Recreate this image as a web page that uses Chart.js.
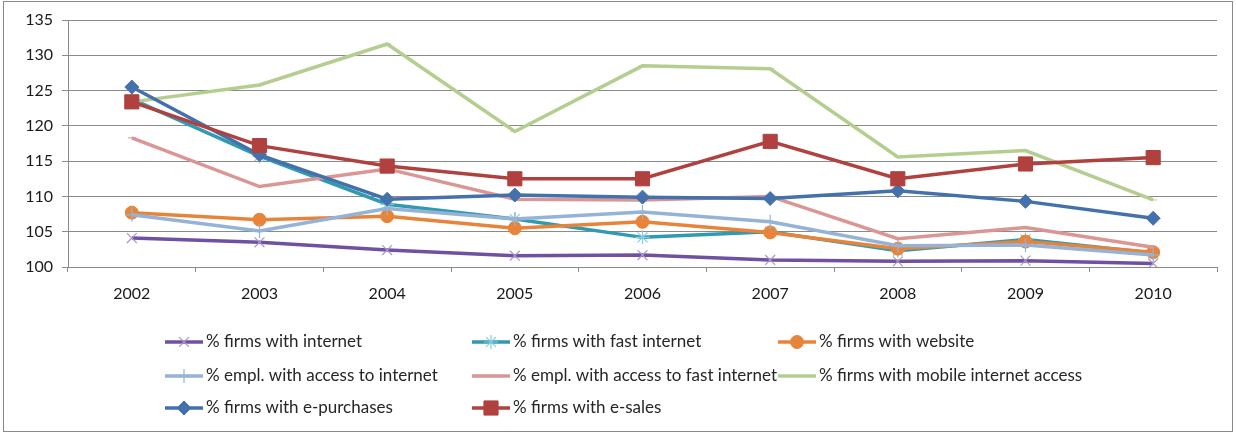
<!DOCTYPE html>
<html>
<head>
<meta charset="utf-8">
<script src="https://cdn.jsdelivr.net/npm/chart.js@4.4.1/dist/chart.umd.min.js"></script>
<style>
  html, body { margin: 0; padding: 0; background: #fff; }
  #wrap { position: relative; width: 1236px; height: 433px; }
</style>
</head>
<body>
<div id="wrap"><canvas id="trend" width="1236" height="433"></canvas></div>
<script>
const years = ['2002', '2003', '2004', '2005', '2006', '2007', '2008', '2009', '2010'];

const firmsInternet     = [104.1, 103.5, 102.4, 101.6, 101.7, 101.0, 100.8, 100.9, 100.5];
const firmsFastInternet = [123.8, 115.7, 108.9, 106.8, 104.2, 105.0, 102.3, 103.9, 102.0];
const firmsWebsite      = [107.7, 106.7, 107.2, 105.5, 106.4, 104.9, 102.6, 103.6, 102.1];
const emplInternet      = [107.4, 105.1, 108.3, 106.8, 107.8, 106.4, 103.0, 103.1, 101.7];
const emplFastInternet  = [118.3, 111.4, 113.9, 109.6, 109.5, 110.0, 104.0, 105.6, 102.8];
const firmsMobile       = [123.4, 125.8, 131.6, 119.2, 128.5, 128.1, 115.6, 116.5, 109.5];
const firmsEPurchases   = [125.5, 115.9, 109.6, 110.2, 109.9, 109.7, 110.8, 109.3, 106.9];
const firmsESales       = [123.4, 117.2, 114.3, 112.5, 112.5, 117.8, 112.5, 114.6, 115.5];

const seriesNames = [
    '% firms with internet', '% firms with fast internet', '% firms with website',
    '% empl. with access to internet', '% empl. with access to fast internet', '% firms with mobile internet access',
    '% firms with e-purchases', '% firms with e-sales'
];
const seriesValues = [firmsInternet, firmsFastInternet, firmsWebsite, emplInternet,
    emplFastInternet, firmsMobile, firmsEPurchases, firmsESales];

// line colour, marker shape, marker fill/stroke, marker radius
const looks = [
    { line: '#7050a0', style: 'crossRot', mark: '#a898cc', r: 7 },
    { line: '#2f9ab0', style: 'star',     mark: '#84cde0', r: 7 },
    { line: '#e8843a', style: 'circle',   mark: '#e8843a', r: 6.5 },
    { line: '#95b3d7', style: 'cross',    mark: '#95b3d7', r: 7 },
    { line: '#d99694', style: 'line',     mark: '#d99694', r: 4 },
    { line: '#b5ce8f', style: 'line',     mark: '#b5ce8f', r: 4 },
    { line: '#4471ab', style: 'rectRot',  mark: '#4471ab', r: 7 },
    { line: '#b0413e', style: 'rect',     mark: '#b0413e', r: 10 }
];

const yTicks = { min: 100, max: 135, step: 5 };

const thinMarks = ['crossRot', 'star', 'cross'];

const datasets = seriesValues.map((vals, i) => ({
    label: seriesNames[i],
    data: vals,
    borderColor: looks[i].line,
    borderWidth: 3.5,
    pointStyle: looks[i].style,
    pointRadius: looks[i].r,
    pointBackgroundColor: looks[i].mark,
    pointBorderColor: looks[i].mark,
    pointBorderWidth: thinMarks.includes(looks[i].style) ? 1.2 : 1,
    tension: 0,
    fill: false,
    order: -i
}));

// frame around the whole chart
const framePlugin = {
    id: 'frame',
    beforeDraw(chart) {
        const ctx = chart.ctx;
        ctx.save();
        ctx.strokeStyle = '#8a8a8a';
        ctx.lineWidth = 1;
        ctx.strokeRect(3.5, 1.5, 1229, 430);
        ctx.restore();
    }
};

// three-column legend under the plot
const legendPlugin = {
    id: 'gridLegend',
    afterDraw(chart) {
        const ctx = chart.ctx;
        const colX = [165, 472, 778];
        const rowY = [342, 376, 408];
        ctx.save();
        chart.data.datasets.forEach((ds, i) => {
            const x = colX[i % 3];
            const y = rowY[Math.floor(i / 3)];
            ctx.strokeStyle = ds.borderColor;
            ctx.lineWidth = 3.5;
            ctx.beginPath();
            ctx.moveTo(x, y);
            ctx.lineTo(x + 38, y);
            ctx.stroke();
            if (ds.pointStyle !== 'line') {
                ctx.fillStyle = ds.pointBackgroundColor;
                ctx.strokeStyle = ds.pointBorderColor;
                ctx.lineWidth = ds.pointBorderWidth;
                Chart.helpers.drawPoint(ctx, {
                    pointStyle: ds.pointStyle,
                    radius: ds.pointRadius,
                    rotation: 0,
                    borderWidth: ds.pointBorderWidth
                }, x + 19, y);
            }
            ctx.fillStyle = '#262626';
            ctx.font = '17px Lato';
            ctx.textBaseline = 'middle';
            ctx.textAlign = 'left';
            ctx.fillText(ds.label, x + 41, y);
        });
        ctx.restore();
    }
};

new Chart(document.getElementById('trend'), {
    type: 'line',
    data: { labels: years, datasets: datasets },
    options: {
        responsive: false,
        animation: false,
        layout: { padding: { left: 0, top: 20, right: 19, bottom: 0 } },
        plugins: {
            legend: { display: false },
            tooltip: { enabled: false }
        },
        scales: {
            x: {
                offset: true,
                afterFit(scale) { scale.height = 166; },
                grid: {
                    offset: true,
                    drawOnChartArea: false,
                    drawTicks: true,
                    tickLength: 5,
                    color: '#8a8a8a'
                },
                border: { color: '#8a8a8a', width: 1 },
                ticks: {
                    color: '#1a1a1a',
                    font: { family: 'Lato', size: 16 },
                    padding: 12,
                    maxRotation: 0
                }
            },
            y: {
                min: yTicks.min,
                max: yTicks.max,
                afterFit(scale) { scale.width = 68; },
                grid: {
                    color: '#8a8a8a',
                    lineWidth: 1,
                    drawTicks: true,
                    tickLength: 6
                },
                border: { color: '#8a8a8a', width: 1 },
                ticks: {
                    stepSize: yTicks.step,
                    color: '#1a1a1a',
                    font: { family: 'Lato', size: 16 },
                    padding: 9
                }
            }
        }
    },
    plugins: [framePlugin, legendPlugin]
});
</script>
</body>
</html>
